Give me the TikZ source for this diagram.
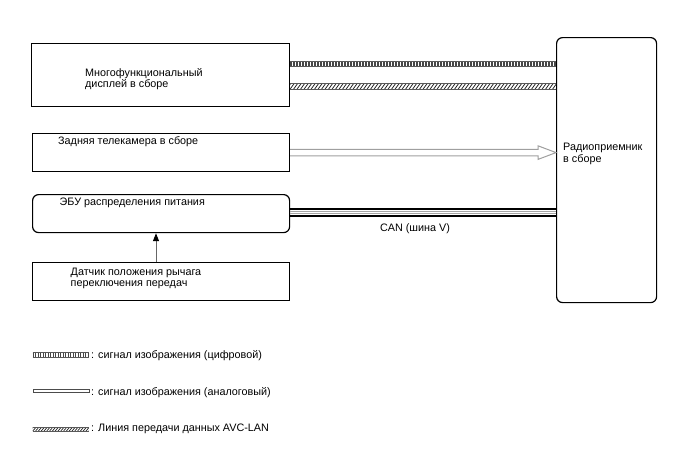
\documentclass[tikz,border=0pt]{standalone}
\usepackage{fontspec}
\setmainfont{Liberation Sans}
\usetikzlibrary{calc,arrows.meta}
\begin{document}
\begin{tikzpicture}[x=1pt,y=-1pt,
  box/.style={draw,line width=1.2pt,inner sep=0pt,anchor=north west},
  rbox/.style={box,rounded corners=6pt},
  txt/.style={font=\fontsize{10.8}{12}\selectfont,anchor=base west,inner sep=0pt},
  hatchline/.style={line width=0.8pt,black!85},
  edge/.style={line width=0.7pt,gray!70!black},
  stripes/.style={line width=4.6pt,gray!55!black,dash pattern=on 1.5pt off 1.5pt},
  analog/.style={line width=1pt,gray!75},
  canblack/.style={line width=1.6pt,black},
  cangray/.style={line width=0.7pt,gray!70}]
\useasboundingbox (0,0) rectangle (688,463);

% boxes
\node[box,minimum width=258pt,minimum height=63pt] (mfd) at (31,43) {};
\node[box,minimum width=257pt,minimum height=38pt] (cam) at (32,133) {};
\node[rbox,minimum width=257pt,minimum height=38pt] (ecu) at (32,194) {};
\node[box,minimum width=257pt,minimum height=38pt] (sen) at (32,262) {};
\node[rbox,minimum width=100pt,minimum height=265pt] (radio) at (556,37) {};

% texts
\node[txt] (t1) at (85,76.5) {Многофункциональный};
\node[txt] (t1b) at (85,87.5) {дисплей в сборе};
\node[txt] (t2) at (58,144) {Задняя телекамера в сборе};
\node[txt] (t3) at (59.5,205.5) {ЭБУ распределения питания};
\node[txt] (t4) at (70.5,275) {Датчик положения рычага};
\node[txt] (t4b) at (70.5,286.5) {переключения передач};
\node[txt] (t5) at (563,150.5) {Радиоприемник};
\node[txt] (t5b) at (563,162.5) {в сборе};
\node[txt,anchor=base] (can) at (415,231.5) {CAN (шина V)};

% digital video signal
\coordinate (d1) at ($(mfd.north east)+(0,21)$);
\coordinate (d2) at (radio.west |- d1);
\draw[stripes] (d1) -- (d2);
\draw[edge] ($(d1)+(0,-2.6)$) -- ($(d2)+(0,-2.6)$);
\draw[edge] ($(d1)+(0,2.6)$) -- ($(d2)+(0,2.6)$);

% AVC-LAN
\coordinate (a1) at ($(mfd.north east)+(0,43.5)$);
\coordinate (a2) at (radio.west |- a1);
\begin{scope}
\clip ($(a1)+(0,-3.2)$) rectangle ($(a2)+(0,3.2)$);
\foreach \x in {286,289.5,...,562} \draw[hatchline] (\x,90) -- (\x+5,83);
\end{scope}
\draw[edge] ($(a1)+(0,-3.2)$) -- ($(a2)+(0,-3.2)$);
\draw[edge] ($(a1)+(0,3.2)$) -- ($(a2)+(0,3.2)$);

% analog video signal
\coordinate (c2) at (radio.west |- cam.east);
\draw[analog,line join=miter] ($(cam.east)+(0,-3.3)$) -- ($(c2)+(-18,-3.3)$) -- ($(c2)+(-18,-6.8)$)
  -- (c2) -- ($(c2)+(-18,6.8)$) -- ($(c2)+(-18,3.3)$) -- ($(cam.east)+(0,3.3)$);

% CAN
\coordinate (e1) at ($(ecu.east)+(0,-1)$);
\coordinate (e2) at (radio.west |- e1);
\draw[canblack] ($(e1)+(0,-3.5)$) -- ($(e2)+(0,-3.5)$);
\draw[canblack] ($(e1)+(0,3.5)$) -- ($(e2)+(0,3.5)$);
\draw[cangray] ($(e1)+(0,-1.2)$) -- ($(e2)+(0,-1.2)$);
\draw[cangray] ($(e1)+(0,1.2)$) -- ($(e2)+(0,1.2)$);

% sensor -> ECU
\draw[line width=0.9pt,gray!80!black,-{Triangle[length=8pt,width=6pt,fill=black,color=black]}]
  (sen.north -| 156,0) -- (ecu.south -| 156,0);

% legend
\node[inner sep=0pt,minimum width=56pt,minimum height=4pt,anchor=west] (l1) at (32.5,355) {};
\draw[line width=3.6pt,gray!55!black,dash pattern=on 1.3pt off 1.2pt] (l1.west) -- (l1.east);
\draw[edge] (l1.north west) -- (l1.north east);
\draw[edge] (l1.south west) -- (l1.south east);
\node[txt] (lt1) at (91,358.3) {: сигнал изображения (цифровой)};

\node[draw,line width=0.7pt,gray!60!black,inner sep=0pt,minimum width=56pt,minimum height=3pt,anchor=west] (l2) at (32.5,391.3) {};
\node[txt] (lt2) at (91,395) {: сигнал изображения (аналоговый)};

\node[inner sep=0pt,minimum width=56pt,minimum height=3.4pt,anchor=west] (l3) at (32.5,429.2) {};
\begin{scope}
\clip (l3.north west) rectangle (l3.south east);
\foreach \x in {30,32.8,...,92} \draw[line width=0.7pt,black!85] (\x,431) -- (\x+3,427.5);
\end{scope}
\draw[edge] (l3.north west) -- (l3.north east);
\draw[edge] (l3.south west) -- (l3.south east);
\node[txt] (lt3) at (91,431.7) {: Линия передачи данных AVC-LAN};
\end{tikzpicture}
\end{document}
